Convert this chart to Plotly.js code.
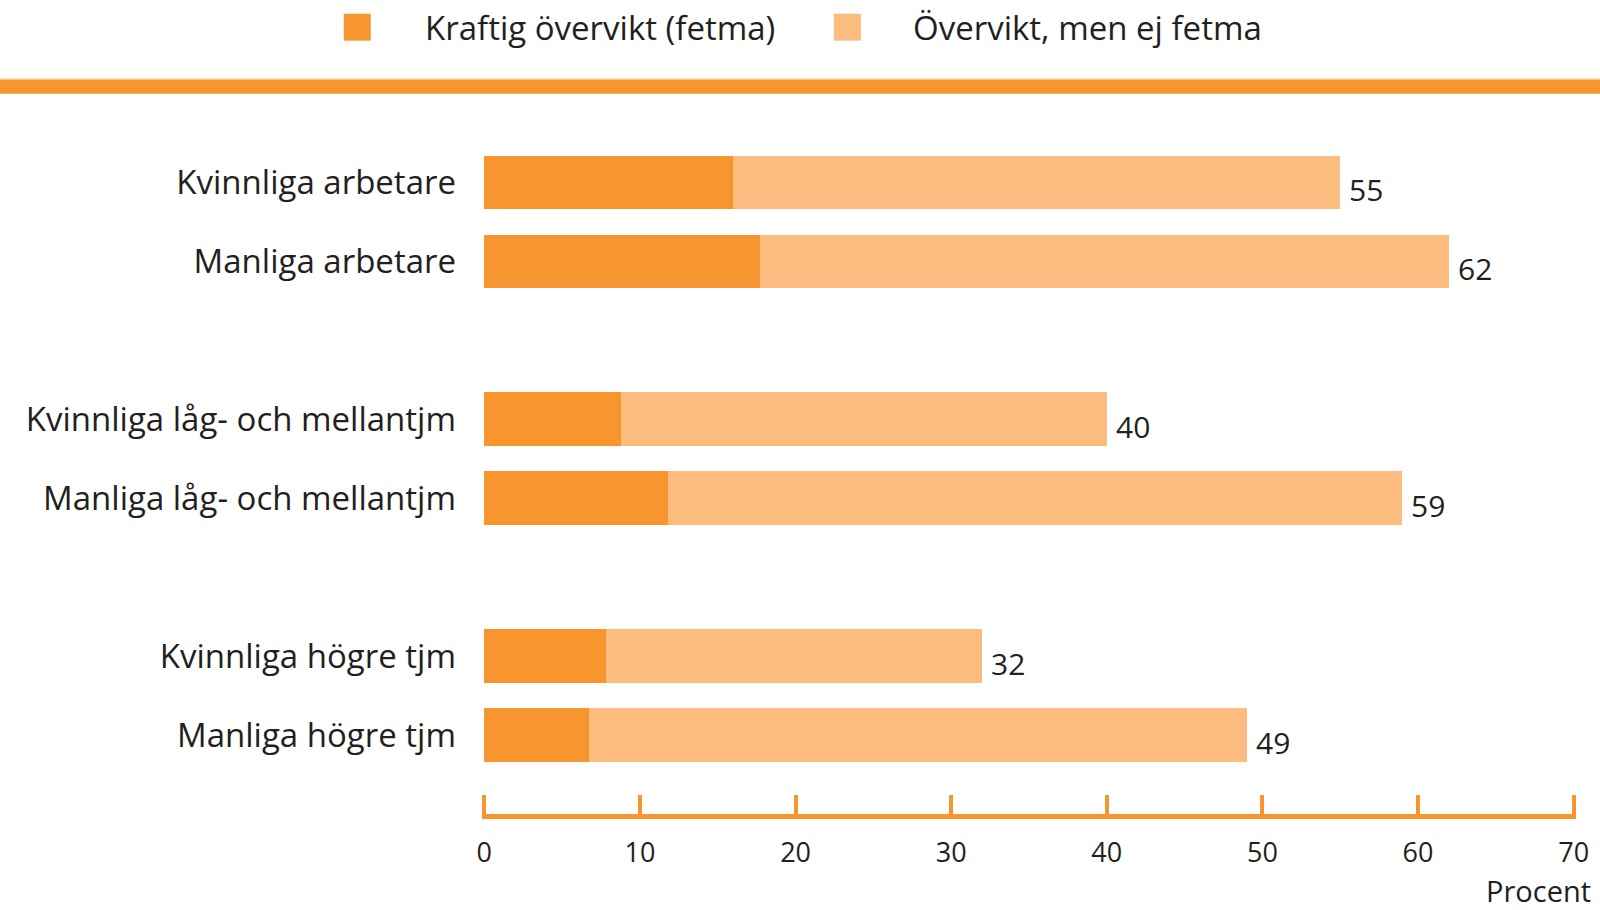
<!DOCTYPE html>
<html>
<head>
<meta charset="utf-8">
<script src="https://cdn.plot.ly/plotly-3.0.1.min.js"></script>
<style>
  html, body { margin: 0; padding: 0; background: #ffffff; }
  #chart { width: 1600px; height: 910px; }
</style>
</head>
<body>
<div id="chart"></div>
<script>
// ---- data ----
const categories = [
  "Kvinnliga arbetare",
  "Manliga arbetare",
  "Kvinnliga låg- och mellantjm",
  "Manliga låg- och mellantjm",
  "Kvinnliga högre tjm",
  "Manliga högre tjm"
];
const seriesNames = ["Kraftig övervikt (fetma)", "Övervikt, men ej fetma"];
const fetma = [16, 17.7, 8.8, 11.8, 7.8, 6.7];   // Kraftig övervikt (fetma)
const overviktTotal = [55, 62, 40, 59, 32, 49];  // total övervikt inkl. fetma (bar labels)
const xTickValues = [0, 10, 20, 30, 40, 50, 60, 70];
const xAxisLabel = "Procent";

// ---- style ----
const DARK = "#F7952F";
const LIGHT = "#FCBC7F";
const TEXT = "#231F20";
const FONT = "Open Sans, Noto Sans, sans-serif";

// derived: overweight but not obese = total - fetma
const overviktEjFetma = overviktTotal.map((t, i) => +(t - fetma[i]).toFixed(2));

// category order with spacer slots between the groups
const catOrder = [categories[0], categories[1], " ", categories[2], categories[3], "  ", categories[4], categories[5]];

// layout geometry (pixels)
const W = 1600, H = 910;
const L = 482.2, R = 24.1, T = 142.5, B = 95.5;
const plotW = W - L - R, plotH = H - T - B;
const px = v => (v - L) / plotW;        // pixel x -> paper x
const py = v => (H - B - v) / plotH;    // pixel y -> paper y

const traces = [
  {
    type: "bar", orientation: "h", name: seriesNames[0],
    y: categories, x: fetma,
    marker: { color: DARK, line: { width: 0 } },
    width: 0.68, showlegend: false, hoverinfo: "x+y+name"
  },
  {
    type: "bar", orientation: "h", name: seriesNames[1],
    y: categories, x: overviktEjFetma,
    marker: { color: LIGHT, line: { width: 0 } },
    width: 0.68, showlegend: false, hoverinfo: "x+y+name"
  }
];

const annotations = categories.map((c, i) => ({
  xref: "x", yref: "y", x: overviktTotal[i], y: c,
  text: String(overviktTotal[i]),
  showarrow: false, xanchor: "left", yanchor: "middle",
  xshift: 7, yshift: -7,
  font: { family: FONT, size: 30, color: TEXT }
}));

// legend text
annotations.push({
  xref: "paper", yref: "paper", x: px(423), y: py(26.5),
  text: seriesNames[0], showarrow: false, xanchor: "left", yanchor: "middle",
  font: { family: FONT, size: 33, color: TEXT }
});
annotations.push({
  xref: "paper", yref: "paper", x: px(911), y: py(26.5),
  text: seriesNames[1], showarrow: false, xanchor: "left", yanchor: "middle",
  font: { family: FONT, size: 33, color: TEXT }
});
// axis unit label
annotations.push({
  xref: "paper", yref: "paper", x: px(1593), y: py(891),
  text: xAxisLabel, showarrow: false, xanchor: "right", yanchor: "middle",
  font: { family: FONT, size: 29, color: TEXT }
});

const shapes = [
  // top band
  { type: "rect", xref: "paper", yref: "paper", x0: px(-5), x1: px(1605), y0: py(93.3), y1: py(79),
    fillcolor: DARK, line: { width: 0 } },
  { type: "rect", xref: "paper", yref: "paper", x0: px(-5), x1: px(1605), y0: py(79), y1: py(78),
    fillcolor: LIGHT, line: { width: 0 } },
  // legend swatches
  { type: "rect", xref: "paper", yref: "paper", x0: px(344), x1: px(371), y0: py(40), y1: py(13),
    fillcolor: DARK, line: { width: 0 } },
  { type: "rect", xref: "paper", yref: "paper", x0: px(834), x1: px(861), y0: py(40), y1: py(13),
    fillcolor: LIGHT, line: { width: 0 } }
];

const layout = {
  width: W, height: H,
  margin: { l: L, r: R, t: T, b: B, pad: 0 },
  paper_bgcolor: "#ffffff", plot_bgcolor: "#ffffff",
  barmode: "stack",
  showlegend: false,
  font: { family: FONT, color: TEXT },
  xaxis: {
    range: [-0.15, 70.15], tickvals: xTickValues, ticktext: xTickValues.map(String),
    showgrid: false, zeroline: false,
    showline: true, linecolor: DARK, linewidth: 5,
    ticks: "inside", ticklen: 19, tickwidth: 4, tickcolor: DARK,
    ticklabelstandoff: 11,
    tickfont: { family: FONT, size: 27, color: TEXT },
    fixedrange: true
  },
  yaxis: {
    type: "category", categoryorder: "array", categoryarray: catOrder,
    range: [8.0, -0.5],
    showgrid: false, zeroline: false, showline: false, ticks: "",
    ticklabelstandoff: 25,
    tickfont: { family: FONT, size: 33, color: TEXT },
    fixedrange: true
  },
  annotations: annotations,
  shapes: shapes
};

Plotly.newPlot("chart", traces, layout, { displayModeBar: false, staticPlot: true });
</script>
</body>
</html>
